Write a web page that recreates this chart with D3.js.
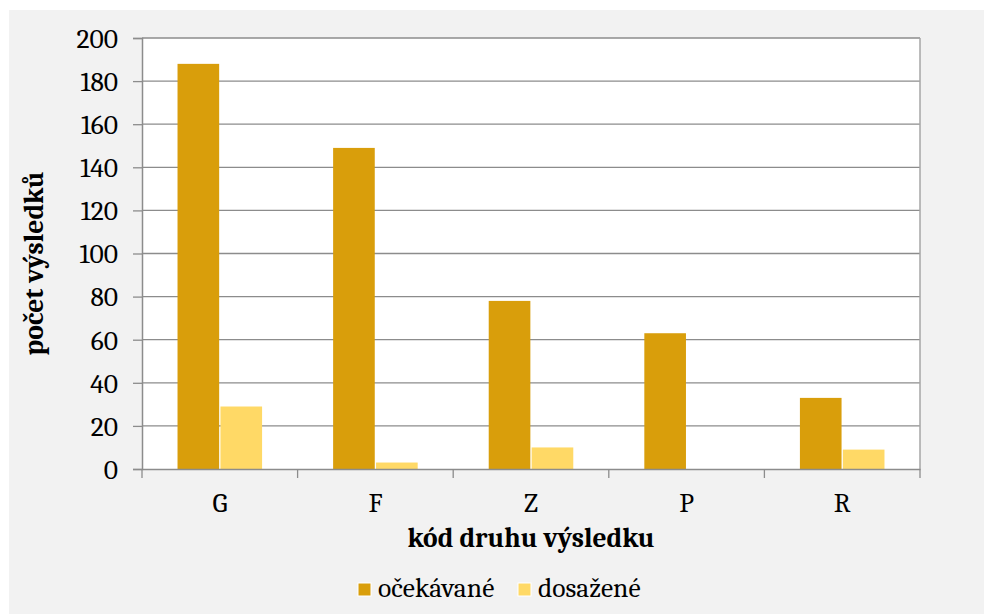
<!DOCTYPE html>
<html>
<head>
<meta charset="utf-8">
<script src="https://cdn.jsdelivr.net/npm/d3@7"></script>
<style>
body { margin:0; background:#fff; }
text { font-family: Cambria, "Liberation Serif", serif; fill:#000; }
</style>
</head>
<body>
<div id="chart"></div>
<script>
// data
const categories = ['G','F','Z','P','R'];
const expected = [188,149,78,63,33];
const achieved = [29,3,10,0,9];
const seriesNames = ['očekávané','dosažené'];
const yTicks = [0,20,40,60,80,100,120,140,160,180,200];

const W = 984, H = 614;
const colors = ['#d99e0b','#ffd966'];
const fs = '27.5px';

let svg = d3.select('#chart').append('svg').attr('width',W).attr('height',H);
svg.append('rect').attr('x',9).attr('y',10).attr('width',W-9).attr('height',H-10).attr('fill','#f2f2f2');

let pad = {l:142, r:920, t:38, b:469};
let x = d3.scaleBand().domain(categories).range([pad.l,pad.r]).paddingInner(0.44).paddingOuter(0.22);
let x1 = d3.scaleBand().domain(seriesNames).range([0,x.bandwidth()]).padding(0.03);
let y = d3.scaleLinear().domain([0,200]).range([pad.b,pad.t]);

svg.append('rect').attr('x',pad.l).attr('y',pad.t).attr('width',pad.r-pad.l).attr('height',pad.b-pad.t).attr('fill','#fff');

// gridlines
svg.append('g').selectAll('line').data(yTicks.slice(1)).enter().append('line')
  .attr('x1',pad.l).attr('x2',pad.r).attr('y1',d=>y(d)).attr('y2',d=>y(d))
  .attr('stroke','#8c8c8c').attr('stroke-width',1.3);
svg.append('line').attr('x1',pad.r).attr('x2',pad.r).attr('y1',pad.t).attr('y2',pad.b)
  .attr('stroke','#a6a6a6').attr('stroke-width',1.5);

// bars
let rows = categories.map((c,i) => ({c:c, v:[expected[i],achieved[i]]}));
svg.append('g').selectAll('g').data(rows).enter().append('g')
  .attr('transform',d=>'translate('+x(d.c)+',0)')
  .selectAll('rect').data(d=>d.v.map((v,j)=>({s:seriesNames[j],v:v,j:j}))).enter()
  .append('rect')
  .attr('x',d=>x1(d.s)).attr('width',x1.bandwidth())
  .attr('y',d=>y(d.v)).attr('height',d=>y(0)-y(d.v))
  .attr('fill',d=>colors[d.j]);

// y axis
let ya = svg.append('g').attr('transform','translate('+pad.l+',0)')
  .call(d3.axisLeft(y).tickValues(yTicks).tickSize(9).tickPadding(15));
ya.select('.domain').attr('stroke','#8c8c8c').attr('stroke-width',1.5);
ya.selectAll('.tick line').attr('stroke','#8c8c8c').attr('stroke-width',1.3);
ya.selectAll('text').style('font-size',fs).attr('fill','#000').attr('dy','0.34em');

// x axis
let xa = svg.append('g').attr('transform','translate(0,'+pad.b+')')
  .call(d3.axisBottom(x).tickSize(0));
xa.select('.domain').attr('stroke','#8c8c8c').attr('stroke-width',1.5);
xa.selectAll('text').style('font-size',fs).attr('fill','#000').attr('y',43).attr('dy',0);
let step = (pad.r-pad.l)/categories.length;
svg.append('g').selectAll('line').data(d3.range(categories.length+1)).enter().append('line')
  .attr('x1',i=>pad.l+i*step).attr('x2',i=>pad.l+i*step)
  .attr('y1',pad.b).attr('y2',pad.b+9)
  .attr('stroke','#8c8c8c').attr('stroke-width',1.3);

// titles
svg.append('text').attr('x',(pad.l+pad.r)/2).attr('y',547).attr('text-anchor','middle')
  .style('font-size',fs).style('font-weight','bold').text('kód druhu výsledku');
svg.append('text').attr('transform','translate(43,'+((pad.t+pad.b)/2+10)+') rotate(-90)')
  .attr('text-anchor','middle').style('font-size',fs).style('font-weight','bold')
  .text('počet výsledků');

// legend
let lg = svg.append('g').attr('transform','translate(358,583)');
let lx = [0,160];
seriesNames.forEach((n,i) => {
  lg.append('rect').attr('x',lx[i]).attr('y',0).attr('width',13).attr('height',13)
    .attr('fill',colors[i]).attr('stroke','#fff').attr('stroke-width',1);
  lg.append('text').attr('x',lx[i]+20).attr('y',14).style('font-size',fs).text(n);
});
</script>
</body>
</html>
